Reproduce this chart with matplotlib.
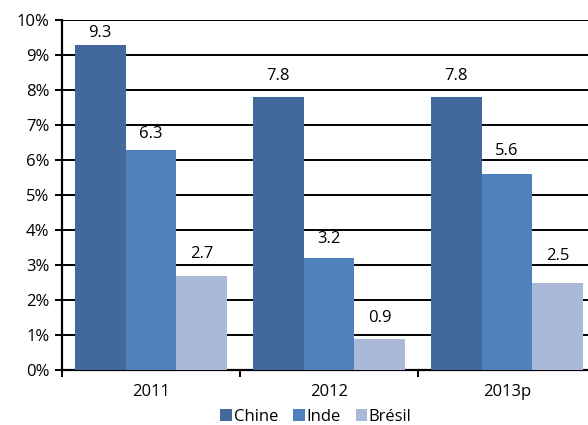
import matplotlib
matplotlib.use("Agg")
import matplotlib.pyplot as plt
import numpy as np

plt.rcParams['font.family'] = ['Open Sans', 'DejaVu Sans']

# croissance du PIB (%)
annees = ["2011", "2012", "2013p"]
chine = [9.3, 7.8, 7.8]
inde = [6.3, 3.2, 5.6]
bresil = [2.7, 0.9, 2.5]
series = [("Chine", chine, "#41699C"), ("Inde", inde, "#4F81BD"), ("Brésil", bresil, "#AAB9D8")]


def label_y(v):
    # value label above the bar, kept off the gridlines and inside the plot
    y = v + 0.6
    g = round(y)
    if abs(y - g) < 0.22:
        y = g - 0.25 if y < g else g + 0.25
    return min(y, 9.63)


fig = plt.figure(figsize=(5.88, 4.25), dpi=100)
# right edge of the axes runs slightly past the image
ax = fig.add_axes([62/588, (425-370)/425, (596-62)/588, 350/425])

x = np.arange(len(annees))
w = 0.285
for i, (nom, vals, col) in enumerate(series):
    pos = x + (i - 1) * w
    ax.bar(pos, vals, width=w, color=col, label=nom, zorder=3, edgecolor='none')
    for p, v in zip(pos, vals):
        ax.text(p, label_y(v), f"{v}", ha='center', va='center', fontsize=12, zorder=4)

ax.set_xlim(-0.5, 2.5)
ax.set_ylim(0, 10)
ax.set_yticks(np.arange(0, 11, 1))
ax.set_yticklabels([f"{v}%" for v in range(11)])
ax.yaxis.grid(True, color='black', linewidth=1.4, zorder=0)
ax.set_axisbelow(True)

ax.set_xticks([-0.5, 0.5, 1.5, 2.5])
ax.set_xticklabels([])
ax.set_xticks(x, minor=True)
ax.set_xticklabels(annees, minor=True, fontsize=12)
ax.tick_params(axis='x', which='minor', length=0, pad=10)
ax.tick_params(axis='x', which='major', direction='out', length=5, width=1.4)
ax.tick_params(axis='y', direction='out', length=5, width=1.4, labelsize=12, pad=4)

for s in ['top', 'right']:
    ax.spines[s].set_visible(False)
for s in ['left', 'bottom']:
    ax.spines[s].set_linewidth(1.6)

fig.legend(loc='center', bbox_to_anchor=(316/588, 1 - 417/425), ncol=3, frameon=False,
           fontsize=12, handlelength=0.7, handleheight=0.7, handletextpad=0.1,
           columnspacing=0.9, borderpad=0)

fig.savefig("out.png", dpi=100)
